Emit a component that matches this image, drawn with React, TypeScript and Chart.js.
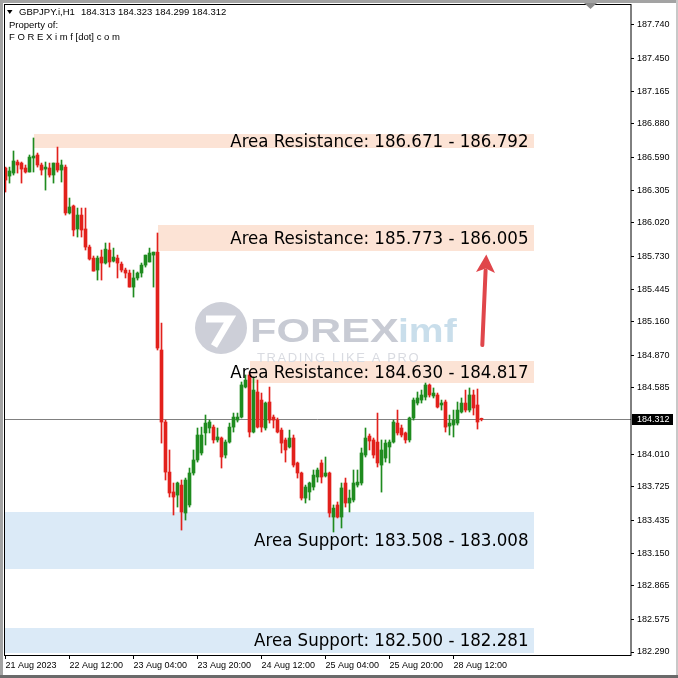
import React, { useEffect, useRef } from 'react';
import { Chart, registerables } from 'chart.js';

Chart.register(...registerables);

// ---- data (GBPJPY.i, H1) ----
const symbolTitle = 'GBPJPY.i,H1';
const lastQuote = [184.313, 184.323, 184.299, 184.312];

const candleOpen = [
  186.497, 186.427, 186.453, 186.549, 186.540, 186.497, 186.462, 186.584, 186.610, 186.523,
  186.488, 186.497, 186.436, 186.540, 186.479, 186.505, 186.106, 186.167, 185.967, 186.088,
  185.967, 185.810, 185.714, 185.610, 185.723, 185.671, 185.784, 185.688, 185.714, 185.662,
  185.610, 185.584, 185.462, 185.541, 185.584, 185.653, 185.680, 185.740, 185.766, 184.915,
  184.289, 183.854, 183.681, 183.654, 183.741, 183.498, 183.568, 183.846, 183.959, 184.020,
  184.194, 184.237, 184.245, 184.133, 184.150, 184.002, 184.115, 184.245, 184.306, 184.332,
  184.593, 184.698, 184.202, 184.550, 184.480, 184.237, 184.463, 184.332, 184.306, 184.219,
  184.133, 184.072, 184.150, 183.933, 183.846, 183.628, 183.681, 183.724, 183.811, 183.933,
  183.820, 183.846, 183.463, 183.568, 183.463, 183.759, 183.585, 183.611, 183.741, 183.759,
  184.002, 184.167, 184.133, 184.115, 183.915, 183.976, 184.072, 184.115, 184.280, 184.237,
  184.194, 184.133, 184.324, 184.454, 184.480, 184.506, 184.611, 184.515, 184.524, 184.437,
  184.463, 184.254, 184.263, 184.280, 184.376, 184.454, 184.393, 184.524, 184.437, 184.313,
];
const candleHigh = [
  186.505, 186.505, 186.645, 186.566, 186.549, 186.523, 186.610, 186.758, 186.627, 186.540,
  186.549, 186.540, 186.540, 186.679, 186.566, 186.523, 186.236, 186.175, 186.149, 186.149,
  186.149, 185.827, 185.732, 185.732, 185.784, 185.845, 185.845, 185.801, 185.740, 185.680,
  185.627, 185.610, 185.610, 185.593, 185.671, 185.740, 185.801, 185.766, 185.932, 185.149,
  184.306, 184.046, 183.759, 183.767, 183.785, 183.802, 183.889, 184.046, 184.237, 184.245,
  184.350, 184.306, 184.263, 184.237, 184.159, 184.133, 184.280, 184.367, 184.367, 184.637,
  184.698, 184.724, 184.680, 184.654, 184.541, 184.463, 184.593, 184.350, 184.324, 184.237,
  184.150, 184.219, 184.176, 183.941, 183.854, 183.741, 183.767, 183.872, 183.889, 183.959,
  183.985, 183.854, 183.568, 183.594, 183.759, 183.802, 183.698, 183.872, 183.872, 184.063,
  184.237, 184.185, 184.150, 184.367, 184.133, 184.133, 184.133, 184.306, 184.393, 184.263,
  184.202, 184.332, 184.498, 184.550, 184.567, 184.628, 184.620, 184.585, 184.541, 184.480,
  184.480, 184.350, 184.393, 184.463, 184.498, 184.567, 184.585, 184.567, 184.576, 184.323,
];
const candleLow = [
  186.288, 186.366, 186.436, 186.453, 186.366, 186.453, 186.462, 186.462, 186.505, 186.436,
  186.305, 186.418, 186.366, 186.462, 186.375, 186.088, 186.097, 185.906, 185.897, 185.897,
  185.784, 185.697, 185.601, 185.523, 185.523, 185.662, 185.636, 185.680, 185.541, 185.593,
  185.541, 185.462, 185.375, 185.523, 185.549, 185.636, 185.680, 185.462, 184.915, 184.106,
  183.785, 183.637, 183.481, 183.550, 183.350, 183.437, 183.550, 183.828, 183.941, 184.002,
  184.089, 184.194, 184.106, 184.115, 183.889, 183.976, 184.106, 184.202, 184.289, 184.324,
  184.585, 184.159, 184.194, 184.237, 184.202, 184.219, 184.280, 184.237, 184.194, 184.020,
  183.941, 184.063, 183.898, 183.802, 183.611, 183.585, 183.611, 183.698, 183.767, 183.759,
  183.811, 183.463, 183.333, 183.455, 183.368, 183.550, 183.507, 183.594, 183.724, 183.741,
  183.985, 184.046, 183.976, 183.898, 183.680, 183.941, 183.933, 184.106, 184.176, 184.159,
  184.106, 184.115, 184.306, 184.437, 184.454, 184.480, 184.506, 184.498, 184.411, 184.393,
  184.202, 184.176, 184.159, 184.263, 184.367, 184.376, 184.376, 184.350, 184.228, 184.299,
];
const candleClose = [
  186.392, 186.471, 186.558, 186.523, 186.488, 186.462, 186.592, 186.601, 186.523, 186.479,
  186.505, 186.436, 186.540, 186.479, 186.523, 186.106, 186.158, 185.958, 186.088, 185.958,
  185.810, 185.706, 185.601, 185.714, 185.671, 185.792, 185.680, 185.723, 185.671, 185.610,
  185.584, 185.462, 185.541, 185.584, 185.653, 185.740, 185.758, 185.766, 184.932, 184.289,
  183.854, 183.672, 183.637, 183.759, 183.507, 183.785, 183.846, 183.959, 184.176, 184.176,
  184.280, 184.289, 184.133, 184.159, 183.985, 184.115, 184.245, 184.332, 184.332, 184.611,
  184.654, 184.202, 184.567, 184.245, 184.245, 184.454, 184.306, 184.306, 184.202, 184.106,
  184.046, 184.150, 183.915, 183.846, 183.628, 183.724, 183.759, 183.828, 183.872, 183.811,
  183.846, 183.498, 183.541, 183.463, 183.716, 183.585, 183.628, 183.759, 183.767, 184.020,
  184.150, 184.124, 184.002, 183.933, 184.046, 184.106, 184.115, 184.289, 184.194, 184.176,
  184.133, 184.324, 184.480, 184.498, 184.524, 184.611, 184.524, 184.541, 184.419, 184.454,
  184.245, 184.280, 184.306, 184.393, 184.454, 184.393, 184.524, 184.411, 184.289, 184.312,
];

// time axis labels (every 16 H1 bars)
const timeTickIndex = [0, 16, 32, 48, 64, 80, 96, 112];
const timeTickLabels = [
  '21 Aug 2023', '22 Aug 12:00', '23 Aug 04:00', '23 Aug 20:00',
  '24 Aug 12:00', '25 Aug 04:00', '25 Aug 20:00', '28 Aug 12:00',
];

// price axis tick labels
const priceTicks = [
  187.740, 187.450, 187.165, 186.880, 186.590, 186.305, 186.020, 185.730, 185.445, 185.160,
  184.870, 184.585, 184.010, 183.725, 183.435, 183.150, 182.865, 182.575, 182.290,
];

// support / resistance zones
const areaKind = ['Resistance', 'Resistance', 'Resistance', 'Support', 'Support'];
const areaLow = [186.671, 185.773, 184.630, 183.008, 182.281];
const areaHigh = [186.792, 186.005, 184.817, 183.508, 182.500];
const areaStartBar = [7, 38, 61, -1, -1];
const areaEndBar = 132;

// projected move arrow
const arrowFromBar = 119.2;
const arrowFromPrice = 184.958;
const arrowToBar = 120.2;
const arrowToPrice = 185.745;

// ---- view range ----
const X_MIN = -0.375;
const X_MAX = 156.375;
const Y_MIN = 182.264;
const Y_MAX = 187.9225;

const UP = '#1f8b1f';
const DOWN = '#e2211c';
const AXIS_FONT = "'Liberation Sans', Arial, sans-serif";
const AREA_FONT = "'DejaVu Sans Condensed', 'DejaVu Sans', sans-serif";

const overlayPlugin = {
  id: 'mtOverlay',
  beforeDraw(chart: any) {
    const { ctx, width, height } = chart;
    ctx.save();
    ctx.fillStyle = '#ffffff';
    ctx.fillRect(0, 0, width, height);
    ctx.restore();
  },
  beforeDatasetsDraw(chart: any) {
    const { ctx, chartArea: a, scales } = chart;
    const xs = scales.x;
    const ys = scales.y;
    ctx.save();
    ctx.beginPath();
    ctx.rect(a.left, a.top, a.right - a.left, a.bottom - a.top);
    ctx.clip();
    // zones
    for (let i = 0; i < areaLow.length; i++) {
      const x0 = Math.max(a.left, Math.round(xs.getPixelForValue(areaStartBar[i])));
      const x1 = Math.round(xs.getPixelForValue(areaEndBar));
      const y0 = Math.round(ys.getPixelForValue(areaHigh[i]));
      const y1 = Math.round(ys.getPixelForValue(areaLow[i]));
      ctx.fillStyle = areaKind[i] === 'Support' ? '#dbeaf7' : '#fce3d5';
      ctx.fillRect(x0, y0, x1 - x0, y1 - y0);
    }
    // watermark
    const cx = 221, cy = 328;
    ctx.fillStyle = '#cdcfd8';
    ctx.beginPath();
    ctx.arc(cx, cy, 26, 0, Math.PI * 2);
    ctx.fill();
    ctx.strokeStyle = '#ffffff';
    ctx.lineWidth = 7;
    ctx.lineJoin = 'miter';
    ctx.beginPath();
    ctx.moveTo(cx - 15, cy - 9);
    ctx.lineTo(cx + 9, cy - 9);
    ctx.lineTo(cx - 7, cy + 18);
    ctx.stroke();
    ctx.save();
    ctx.translate(250, 342);
    ctx.scale(1.27, 1);
    ctx.font = "bold 34px 'Liberation Sans', Arial, sans-serif";
    ctx.fillStyle = '#c8cbd4';
    ctx.textBaseline = 'alphabetic';
    ctx.fillText('FOREX', 0, 0);
    ctx.restore();
    ctx.save();
    ctx.translate(398, 342);
    ctx.scale(1.15, 1);
    ctx.font = "bold 34px 'Liberation Sans', Arial, sans-serif";
    ctx.fillStyle = '#c9deeb';
    ctx.fillText('imf', 0, 0);
    ctx.restore();
    ctx.font = "13px 'Liberation Sans', Arial, sans-serif";
    ctx.fillStyle = '#d9dbe1';
    (ctx as any).letterSpacing = '1.6px';
    ctx.fillText('TRADING LIKE A PRO', 257, 362);
    (ctx as any).letterSpacing = '0px';
    // current price line
    const py = Math.round(ys.getPixelForValue(candleClose[candleClose.length - 1])) + 0.5;
    ctx.strokeStyle = '#808080';
    ctx.lineWidth = 1;
    ctx.beginPath();
    ctx.moveTo(a.left, py);
    ctx.lineTo(a.right, py);
    ctx.stroke();
    ctx.restore();
  },
  afterDatasetsDraw(chart: any) {
    const { ctx, chartArea: a, scales } = chart;
    const xs = scales.x;
    const ys = scales.y;
    ctx.save();
    ctx.beginPath();
    ctx.rect(a.left, a.top, a.right - a.left, a.bottom - a.top);
    ctx.clip();
    // zone labels
    ctx.font = '18.5px ' + AREA_FONT;
    ctx.fillStyle = '#000000';
    ctx.textAlign = 'right';
    ctx.textBaseline = 'middle';
    const tx = xs.getPixelForValue(areaEndBar) - 5;
    for (let i = 0; i < areaLow.length; i++) {
      const lo = areaLow[i].toFixed(3);
      const hi = areaHigh[i].toFixed(3);
      const txt = areaKind[i] === 'Support'
        ? `Area Support: ${hi} - ${lo}`
        : `Area Resistance: ${lo} - ${hi}`;
      const yc = (ys.getPixelForValue(areaLow[i]) + ys.getPixelForValue(areaHigh[i])) / 2 + 1;
      ctx.fillText(txt, tx, yc);
    }
    // arrow
    const x0 = xs.getPixelForValue(arrowFromBar);
    const y0 = ys.getPixelForValue(arrowFromPrice);
    const x1 = xs.getPixelForValue(arrowToBar);
    const y1 = ys.getPixelForValue(arrowToPrice);
    const len = Math.hypot(x1 - x0, y1 - y0);
    const ux = (x1 - x0) / len, uy = (y1 - y0) / len;
    const headLen = 18, headHalf = 9.5;
    const bx = x1 - ux * headLen, by = y1 - uy * headLen;
    ctx.strokeStyle = '#e0464b';
    ctx.fillStyle = '#e0464b';
    ctx.lineWidth = 4;
    ctx.lineCap = 'round';
    ctx.beginPath();
    ctx.moveTo(x0, y0);
    ctx.lineTo(bx + ux * 2, by + uy * 2);
    ctx.stroke();
    ctx.beginPath();
    ctx.moveTo(x1, y1);
    ctx.lineTo(bx - uy * headHalf, by + ux * headHalf);
    ctx.lineTo(bx + ux * 4, by + uy * 4);
    ctx.lineTo(bx + uy * headHalf, by - ux * headHalf);
    ctx.closePath();
    ctx.fill();
    ctx.restore();
  },
  afterDraw(chart: any) {
    const { ctx, chartArea: a, scales, width, height } = chart;
    const ys = scales.y;
    ctx.save();
    // chart frame
    ctx.strokeStyle = '#000000';
    ctx.lineWidth = 1;
    ctx.strokeRect(a.left + 0.5, a.top + 0.5, a.right - a.left - 0.5, a.bottom - a.top);
    // header
    ctx.fillStyle = '#000000';
    ctx.beginPath();
    ctx.moveTo(7, 10);
    ctx.lineTo(12.5, 10);
    ctx.lineTo(9.75, 14);
    ctx.closePath();
    ctx.fill();
    ctx.font = '9.5px ' + AXIS_FONT;
    ctx.textBaseline = 'middle';
    ctx.textAlign = 'left';
    ctx.fillText(symbolTitle, 19, 12.5);
    ctx.fillText(lastQuote.map((v) => v.toFixed(3)).join(' '), 81, 12.5);
    ctx.fillText('Property of:', 9, 25);
    ctx.fillText('F O R E X i m f [dot] c o m', 9, 37);
    // current price tag
    const last = candleClose[candleClose.length - 1];
    const py = Math.round(ys.getPixelForValue(last));
    ctx.fillStyle = '#000000';
    ctx.fillRect(a.right + 1, py - 5, 41, 11);
    ctx.fillStyle = '#ffffff';
    ctx.font = '9px ' + AXIS_FONT;
    ctx.fillText(last.toFixed(3), a.right + 6, py + 0.5);
    // shift marker
    ctx.fillStyle = '#8c8c8c';
    ctx.beginPath();
    ctx.moveTo(584, 3);
    ctx.lineTo(597, 3);
    ctx.lineTo(590.5, 9);
    ctx.closePath();
    ctx.fill();
    // window frame
    ctx.fillStyle = '#a3a3a3';
    ctx.fillRect(0, 0, width, 3);
    ctx.fillRect(0, 0, 3, height);
    ctx.fillStyle = '#c8c8c8';
    ctx.fillRect(width - 2, 0, 2, height);
    ctx.fillStyle = '#6a6a6a';
    ctx.fillRect(0, height - 3, width, 3);
    ctx.restore();
  },
};

export default function App() {
  const canvasRef = useRef<HTMLCanvasElement | null>(null);

  useEffect(() => {
    document.body.style.margin = '0';
    const canvas = canvasRef.current;
    if (!canvas) return;
    const colors = candleOpen.map((o, i) => (candleClose[i] >= o ? UP : DOWN));
    const wicks = candleHigh.map((h, i) => ({ x: i, y: [candleLow[i], h] }));
    const bodies = candleOpen.map((o, i) => ({ x: i, y: [o, candleClose[i]] }));

    const chart = new Chart(canvas, {
      type: 'bar',
      data: {
        datasets: [
          {
            data: wicks as any,
            backgroundColor: colors,
            barThickness: 1,
            grouped: false,
            borderWidth: 0,
            minBarLength: 1,
          } as any,
          {
            data: bodies as any,
            backgroundColor: colors,
            barThickness: 3,
            grouped: false,
            borderWidth: 0,
            minBarLength: 1,
          } as any,
        ],
      },
      options: {
        animation: false,
        responsive: false,
        maintainAspectRatio: false,
        events: [],
        layout: { padding: { left: 4, top: 4, right: 0, bottom: 0 } },
        plugins: { legend: { display: false }, tooltip: { enabled: false } },
        scales: {
          x: {
            type: 'linear',
            min: X_MIN,
            max: X_MAX,
            bounds: 'data',
            offset: false,
            grid: { offset: false, drawOnChartArea: false, drawTicks: true, tickLength: 4, color: '#000000' },
            border: { display: false },
            ticks: {
              align: 'start',
              maxRotation: 0,
              minRotation: 0,
              autoSkip: false,
              padding: 1,
              color: '#000000',
              font: { family: AXIS_FONT, size: 9 },
              callback: (v: any) => {
                const k = timeTickIndex.indexOf(Number(v));
                return k >= 0 ? timeTickLabels[k] : '';
              },
            },
            afterBuildTicks: (s: any) => {
              s.ticks = timeTickIndex.map((v) => ({ value: v }));
            },
            afterFit: (s: any) => {
              s.height = 23;
              s.paddingLeft = 0;
              s.paddingRight = 0;
            },
          },
          y: {
            type: 'linear',
            position: 'right',
            min: Y_MIN,
            max: Y_MAX,
            bounds: 'data',
            grid: { drawOnChartArea: false, drawTicks: true, tickLength: 3, color: '#000000' },
            border: { display: false },
            ticks: {
              padding: 3,
              color: '#000000',
              font: { family: AXIS_FONT, size: 9 },
              callback: (v: any) => Number(v).toFixed(3),
            },
            afterBuildTicks: (s: any) => {
              s.ticks = priceTicks.map((v) => ({ value: v }));
            },
            afterFit: (s: any) => {
              s.width = 47;
              s.paddingTop = 0;
              s.paddingBottom = 0;
            },
          },
        },
      } as any,
      plugins: [overlayPlugin],
    });
    return () => chart.destroy();
  }, []);

  return (
    <div style={{ width: 678, height: 678 }}>
      <canvas ref={canvasRef} width={678} height={678} style={{ display: 'block', width: 678, height: 678 }} />
    </div>
  );
}
